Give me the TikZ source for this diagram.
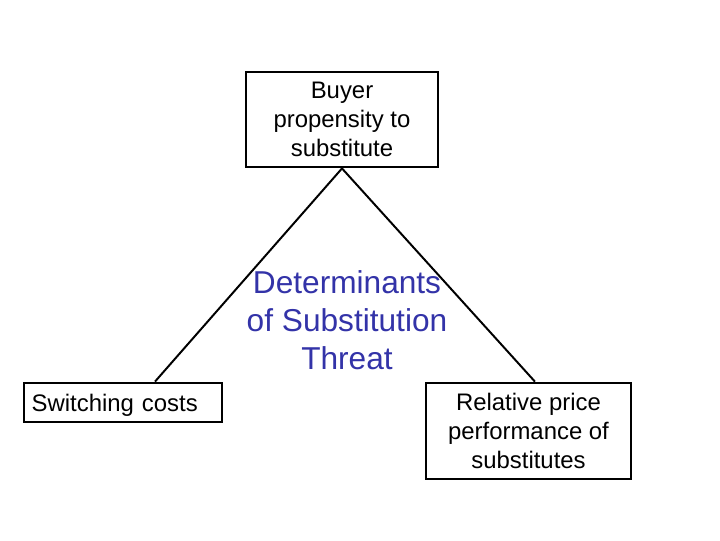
\documentclass[tikz,border=0pt]{standalone}
\usepackage{fontspec}
\setmainfont{Liberation Sans}
\usetikzlibrary{positioning,backgrounds}
\definecolor{azultexto}{HTML}{3333A8}

\begin{document}
\begin{tikzpicture}[x=0.025cm,y=-0.025cm,
  box/.style={draw,line width=2pt,inner sep=0pt,align=center,font=\fontsize{17}{20.6}\selectfont},
  lig/.style={line width=1.4pt},
  titulo/.style={align=center,text=azultexto,font=\fontsize{22.5}{27}\selectfont}
]
  \useasboundingbox (0,0) rectangle (720,540);

  \node[box,minimum width=192*0.025cm,minimum height=95*0.025cm] (buyer) at (342,119.5)
    {Buyer\\propensity to\\substitute};
  \node[box,minimum width=198*0.025cm,minimum height=39*0.025cm,
        text width=198*0.025cm-11pt,align=left,inner xsep=5.5pt,
        text height=12.2pt,text depth=0pt] (switch) at (123,402.5)
    {Switching costs};
  \node[box,minimum width=205*0.025cm,minimum height=96*0.025cm] (price) at (528.5,431)
    {Relative price\\performance of\\substitutes};

  \node[titulo] (threat) at (347,320) {Determinants\\of Substitution\\Threat};

  \begin{scope}[on background layer]
    \draw[lig] (buyer.south) -- ([xshift=0.8cm]switch.north);
    \draw[lig] (buyer.south) -- ([xshift=0.16cm]price.north);
  \end{scope}
\end{tikzpicture}
\end{document}
